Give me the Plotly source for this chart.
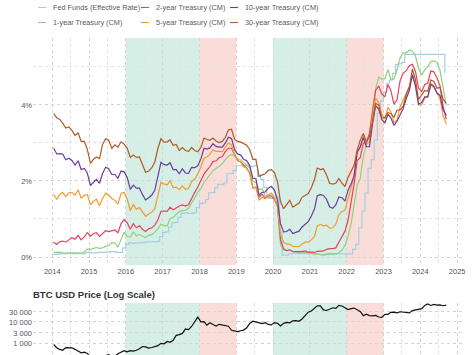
import plotly.graph_objects as go
import pandas as pd

# ---------------- DATA ----------------
months = pd.date_range("2014-01-01", "2024-09-01", freq="MS")
mid = months + pd.Timedelta(days=14)

fed_funds = [
    0.07, 0.07, 0.08, 0.09, 0.09, 0.10, 0.09, 0.09, 0.09, 0.09, 0.09, 0.12,
    0.11, 0.11, 0.11, 0.12, 0.12, 0.13, 0.13, 0.14, 0.14, 0.12, 0.12, 0.24,
    0.34, 0.38, 0.36, 0.37, 0.37, 0.38, 0.39, 0.40, 0.40, 0.40, 0.41, 0.54,
    0.65, 0.66, 0.79, 0.90, 0.91, 1.04, 1.15, 1.16, 1.15, 1.15, 1.16, 1.30,
    1.41, 1.42, 1.51, 1.69, 1.70, 1.82, 1.91, 1.91, 1.95, 2.19, 2.20, 2.27,
    2.40, 2.40, 2.41, 2.42, 2.39, 2.38, 2.40, 2.13, 2.04, 1.83, 1.55, 1.55,
    1.55, 1.58, 0.65, 0.05, 0.05, 0.08, 0.09, 0.10, 0.09, 0.09, 0.09, 0.09,
    0.09, 0.08, 0.07, 0.07, 0.06, 0.08, 0.10, 0.09, 0.08, 0.08, 0.08, 0.08,
    0.08, 0.08, 0.20, 0.33, 0.77, 1.21, 1.68, 2.33, 2.56, 3.08, 3.78, 4.10,
    4.33, 4.57, 4.65, 4.83, 5.06, 5.08, 5.12, 5.33, 5.33, 5.33, 5.33, 5.33,
    5.33, 5.33, 5.33, 5.33, 5.33, 5.33, 5.33, 5.33, 4.83,
]
t1y = [
    0.12, 0.12, 0.13, 0.11, 0.10, 0.10, 0.11, 0.11, 0.11, 0.10, 0.13, 0.21,
    0.20, 0.22, 0.25, 0.23, 0.24, 0.28, 0.30, 0.38, 0.37, 0.26, 0.48, 0.65,
    0.54, 0.53, 0.66, 0.56, 0.59, 0.55, 0.51, 0.57, 0.59, 0.66, 0.74, 0.87,
    0.83, 0.82, 1.01, 1.04, 1.12, 1.20, 1.22, 1.23, 1.28, 1.40, 1.56, 1.70,
    1.80, 1.96, 2.06, 2.15, 2.27, 2.33, 2.39, 2.45, 2.56, 2.65, 2.70, 2.66,
    2.58, 2.55, 2.49, 2.42, 2.34, 2.00, 1.96, 1.77, 1.80, 1.61, 1.57, 1.55,
    1.53, 1.41, 0.33, 0.18, 0.16, 0.18, 0.15, 0.13, 0.13, 0.13, 0.12, 0.10,
    0.10, 0.07, 0.08, 0.06, 0.05, 0.07, 0.08, 0.07, 0.08, 0.11, 0.18, 0.30,
    0.55, 0.90, 1.34, 1.89, 2.06, 2.65, 2.96, 3.20, 3.86, 4.43, 4.73, 4.68,
    4.69, 4.93, 4.68, 4.68, 4.91, 5.24, 5.37, 5.37, 5.44, 5.42, 5.28, 4.96,
    4.79, 4.92, 5.00, 5.14, 5.16, 5.12, 4.91, 4.43, 3.99,
]
t2y = [
    0.39, 0.33, 0.40, 0.42, 0.39, 0.45, 0.51, 0.47, 0.57, 0.45, 0.53, 0.64,
    0.55, 0.62, 0.64, 0.54, 0.61, 0.69, 0.67, 0.70, 0.71, 0.64, 0.88, 0.98,
    0.90, 0.73, 0.88, 0.77, 0.82, 0.73, 0.67, 0.74, 0.77, 0.84, 0.98, 1.20,
    1.21, 1.20, 1.31, 1.24, 1.30, 1.34, 1.37, 1.34, 1.38, 1.55, 1.70, 1.84,
    2.03, 2.18, 2.28, 2.38, 2.51, 2.53, 2.61, 2.64, 2.77, 2.86, 2.86, 2.68,
    2.54, 2.50, 2.41, 2.34, 2.21, 1.81, 1.84, 1.57, 1.65, 1.55, 1.61, 1.61,
    1.52, 1.33, 0.45, 0.22, 0.17, 0.19, 0.14, 0.14, 0.13, 0.14, 0.16, 0.13,
    0.13, 0.12, 0.15, 0.16, 0.16, 0.20, 0.22, 0.22, 0.24, 0.39, 0.52, 0.68,
    0.98, 1.44, 1.91, 2.54, 2.61, 2.99, 3.01, 3.25, 3.86, 4.38, 4.50, 4.29,
    4.21, 4.54, 4.38, 4.02, 4.13, 4.64, 4.83, 4.90, 5.03, 5.07, 4.88, 4.44,
    4.35, 4.54, 4.57, 4.89, 4.87, 4.71, 4.50, 3.97, 3.62,
]
t5y = [
    1.65, 1.52, 1.64, 1.70, 1.59, 1.68, 1.70, 1.63, 1.77, 1.55, 1.62, 1.64,
    1.37, 1.47, 1.52, 1.35, 1.54, 1.68, 1.63, 1.54, 1.49, 1.39, 1.67, 1.70,
    1.52, 1.22, 1.38, 1.26, 1.30, 1.17, 1.07, 1.13, 1.18, 1.27, 1.60, 1.96,
    1.92, 1.90, 2.01, 1.82, 1.84, 1.77, 1.87, 1.78, 1.80, 1.98, 2.05, 2.18,
    2.38, 2.60, 2.63, 2.70, 2.82, 2.78, 2.78, 2.77, 2.89, 3.00, 2.95, 2.68,
    2.54, 2.49, 2.37, 2.33, 2.19, 1.83, 1.83, 1.49, 1.57, 1.53, 1.64, 1.68,
    1.56, 1.32, 0.59, 0.39, 0.34, 0.34, 0.28, 0.27, 0.27, 0.34, 0.39, 0.39,
    0.45, 0.54, 0.82, 0.86, 0.82, 0.84, 0.76, 0.77, 0.86, 1.11, 1.20, 1.23,
    1.54, 1.81, 2.11, 2.78, 2.87, 3.19, 2.96, 3.03, 3.70, 4.18, 4.06, 3.76,
    3.64, 3.94, 3.82, 3.54, 3.59, 3.95, 4.14, 4.31, 4.49, 4.77, 4.49, 4.00,
    4.00, 4.19, 4.20, 4.56, 4.50, 4.32, 4.16, 3.71, 3.50,
]
t10y = [
    2.86, 2.71, 2.72, 2.71, 2.56, 2.60, 2.54, 2.42, 2.53, 2.30, 2.33, 2.21,
    1.88, 1.98, 2.04, 1.94, 2.20, 2.36, 2.32, 2.17, 2.17, 2.07, 2.26, 2.24,
    2.09, 1.78, 1.89, 1.81, 1.81, 1.64, 1.50, 1.56, 1.63, 1.76, 2.14, 2.49,
    2.43, 2.42, 2.48, 2.30, 2.30, 2.19, 2.32, 2.21, 2.20, 2.36, 2.35, 2.40,
    2.58, 2.86, 2.84, 2.87, 2.98, 2.91, 2.89, 2.89, 3.00, 3.15, 3.12, 2.83,
    2.71, 2.68, 2.57, 2.53, 2.40, 2.07, 2.06, 1.63, 1.70, 1.71, 1.81, 1.86,
    1.76, 1.50, 0.87, 0.66, 0.67, 0.73, 0.62, 0.65, 0.68, 0.79, 0.87, 0.93,
    1.08, 1.26, 1.61, 1.64, 1.62, 1.52, 1.32, 1.28, 1.37, 1.58, 1.56, 1.47,
    1.76, 1.93, 2.13, 2.75, 2.90, 3.14, 2.90, 2.90, 3.52, 3.98, 3.89, 3.62,
    3.53, 3.75, 3.66, 3.46, 3.57, 3.75, 3.90, 4.17, 4.38, 4.80, 4.50, 4.02,
    4.06, 4.21, 4.21, 4.54, 4.48, 4.31, 4.25, 3.87, 3.72,
]
t30y = [
    3.77, 3.66, 3.62, 3.52, 3.39, 3.42, 3.33, 3.20, 3.26, 3.04, 3.04, 2.83,
    2.46, 2.57, 2.63, 2.59, 2.96, 3.11, 3.07, 2.86, 2.95, 2.89, 3.03, 2.97,
    2.86, 2.62, 2.68, 2.62, 2.63, 2.45, 2.23, 2.26, 2.35, 2.50, 2.86, 3.11,
    3.02, 3.03, 3.08, 2.94, 2.96, 2.80, 2.88, 2.80, 2.78, 2.88, 2.80, 2.77,
    2.88, 3.13, 3.09, 3.07, 3.13, 3.05, 3.01, 3.04, 3.15, 3.34, 3.36, 3.10,
    3.04, 3.02, 2.98, 2.94, 2.82, 2.57, 2.57, 2.12, 2.16, 2.19, 2.28, 2.30,
    2.22, 1.97, 1.46, 1.27, 1.38, 1.49, 1.31, 1.36, 1.42, 1.57, 1.62, 1.67,
    1.82, 2.04, 2.34, 2.30, 2.32, 2.16, 1.94, 1.92, 1.94, 2.06, 1.94, 1.85,
    2.10, 2.25, 2.41, 2.81, 3.07, 3.25, 3.04, 3.17, 3.55, 4.04, 4.00, 3.66,
    3.66, 3.80, 3.77, 3.68, 3.86, 3.87, 3.96, 4.28, 4.47, 4.95, 4.66, 4.14,
    4.26, 4.38, 4.36, 4.66, 4.62, 4.44, 4.46, 4.15, 4.04,
]
btc = [
    850, 600, 500, 450, 600, 600, 590, 500, 400, 340, 370, 320,
    220, 250, 250, 230, 235, 250, 280, 230, 235, 310, 380, 430,
    380, 430, 415, 450, 530, 680, 650, 575, 610, 700, 745, 960,
    920, 1190, 1080, 1350, 2300, 2500, 2850, 4700, 4300, 6100, 10000, 17000,
    10200, 10300, 7000, 9200, 7500, 6400, 7700, 7000, 6600, 6300, 4000, 3700,
    3450, 3800, 4100, 5300, 8500, 10800, 10100, 9600, 8300, 9200, 7600, 7200,
    9300, 8600, 6400, 8600, 9500, 9100, 11300, 11600, 10800, 13800, 19700, 29000,
    33100, 45100, 58800, 57700, 37300, 35000, 41500, 47100, 43800, 61300, 57000, 46300,
    38500, 43200, 45500, 37700, 31800, 19800, 23300, 20000, 19400, 20500, 17200, 16500,
    23100, 23100, 28500, 29200, 27200, 30500, 29200, 26000, 27000, 34600, 37700, 42300,
    42600, 61200, 71300, 60600, 67500, 62700, 64600, 59000, 63300,
]

series_names = ["Fed Funds (Effective Rate)", "2-year Treasury (CM)", "10-year Treasury (CM)",
                "1-year Treasury (CM)", "5-year Treasury (CM)", "30-year Treasury (CM)"]
series_colors = ["#a6cee3", "#e8415a", "#6a3d9a", "#8fd17a", "#f59a2c", "#b15928"]

bull_periods = [("2016-01-01", "2018-01-01"), ("2020-01-01", "2022-01-01")]
bear_periods = [("2018-01-01", "2019-01-01"), ("2022-01-01", "2023-01-01")]

rate_tickvals = [0, 2, 4]
rate_ticktext = ["0%", "2%", "4%"]
btc_tickvals = [300, 1000, 3000, 10000, 30000]
btc_ticktext = ["300", "1 000", "3 000", "10 000", "30 000"]

# ---------------- FIGURE ----------------
W, H = 474, 355
ML, MR = 33, 9
PW = W - ML - MR


def px_x(px):
    return (px - ML) / PW


def px_y(py):
    return 1 - py / H


fig = go.Figure()

data_map = {
    "Fed Funds (Effective Rate)": (months, fed_funds, "hv"),
    "2-year Treasury (CM)": (mid, t2y, "linear"),
    "10-year Treasury (CM)": (mid, t10y, "linear"),
    "1-year Treasury (CM)": (mid, t1y, "linear"),
    "5-year Treasury (CM)": (mid, t5y, "linear"),
    "30-year Treasury (CM)": (mid, t30y, "linear"),
}
draw_order = ["Fed Funds (Effective Rate)", "1-year Treasury (CM)", "2-year Treasury (CM)",
              "5-year Treasury (CM)", "10-year Treasury (CM)", "30-year Treasury (CM)"]
for name in draw_order:
    x, y, shape = data_map[name]
    col = series_colors[series_names.index(name)]
    fig.add_trace(go.Scatter(x=x, y=y, mode="lines", name=name, line=dict(color=col, width=1.2, shape=shape),
                             showlegend=False, xaxis="x", yaxis="y"))

fig.add_trace(go.Scatter(x=mid, y=btc, mode="lines", name="BTC", line=dict(color="#111111", width=1.2),
                         showlegend=False, xaxis="x2", yaxis="y2"))

shapes = []
for periods, fill in [(bull_periods, "rgba(150,215,195,0.4)"), (bear_periods, "rgba(245,180,170,0.45)")]:
    for (a, b) in periods:
        for xr, yref in [("x", "y domain"), ("x2", "y2 domain")]:
            shapes.append(dict(type="rect", xref=xr, yref=yref, x0=a, x1=b, y0=0, y1=1,
                               fillcolor=fill, line_width=0, layer="below"))

# custom legend (two rows, three columns)
legend_cols = [38, 141, 230]
legend_rows = [7.5, 22.5]
annotations = []
for i, name in enumerate(series_names):
    r, c = divmod(i, 3)
    x0 = legend_cols[c]
    yy = px_y(legend_rows[r])
    shapes.append(dict(type="line", xref="paper", yref="paper", x0=px_x(x0), x1=px_x(x0 + 8),
                       y0=yy, y1=yy, line=dict(color=series_colors[i], width=1.1)))
    annotations.append(dict(text=name, xref="paper", yref="paper", x=px_x(x0 + 13), y=yy,
                            xanchor="left", yanchor="middle", showarrow=False,
                            font=dict(size=7.3, color="#5a5a5a")))

annotations.append(dict(text="<b>BTC USD Price (Log Scale)</b>", xref="paper", yref="paper",
                        x=px_x(31), y=px_y(294), xanchor="left", yanchor="middle", showarrow=False,
                        font=dict(size=9.5, color="#333333")))

grid = dict(showgrid=True, gridcolor="#d4d4d4", gridwidth=0.8, griddash="dot")
minor = dict(showgrid=True, gridcolor="#e2e2e2", gridwidth=0.8, griddash="dot")
xrange = ["2013-06-24", "2025-03-20"]

fig.update_layout(
    width=W, height=H,
    margin=dict(l=ML, r=MR, t=0, b=0, autoexpand=False),
    paper_bgcolor="white", plot_bgcolor="white",
    font=dict(family="Liberation Sans, Arial, sans-serif", color="#555555", size=7.5),
    shapes=shapes, annotations=annotations,
    xaxis=dict(domain=[0, 1], range=xrange, type="date", dtick="M12", tickformat="%Y",
               ticks="", showline=False, zeroline=False, anchor="y", automargin=False,
               tickfont=dict(size=7.5, color="#555555"),
               minor=dict(dtick="M6", **minor), **grid),
    yaxis=dict(domain=[px_y(265), px_y(38)], range=[-0.21, 5.76], tickvals=rate_tickvals,
               ticktext=rate_ticktext, ticks="", zeroline=False, showline=False, automargin=False,
               tickfont=dict(size=7.5, color="#555555"),
               minor=dict(tickvals=[1, 3, 5], **minor), **grid),
    xaxis2=dict(domain=[0, 1], range=xrange, type="date", dtick="M12", showticklabels=False,
                ticks="", showline=False, zeroline=False, anchor="y2", automargin=False,
                minor=dict(dtick="M6", **minor), **grid),
    yaxis2=dict(domain=[0, px_y(303)], type="log", range=[2.43, 4.9], tickvals=btc_tickvals,
                ticktext=btc_ticktext, ticks="", zeroline=False, showline=False, automargin=False,
                tickfont=dict(size=7.5, color="#555555"), **grid),
)

fig.write_html("out.html", config={"displayModeBar": False},
               post_script="document.body.style.margin='0px';document.body.style.overflow='hidden';")
